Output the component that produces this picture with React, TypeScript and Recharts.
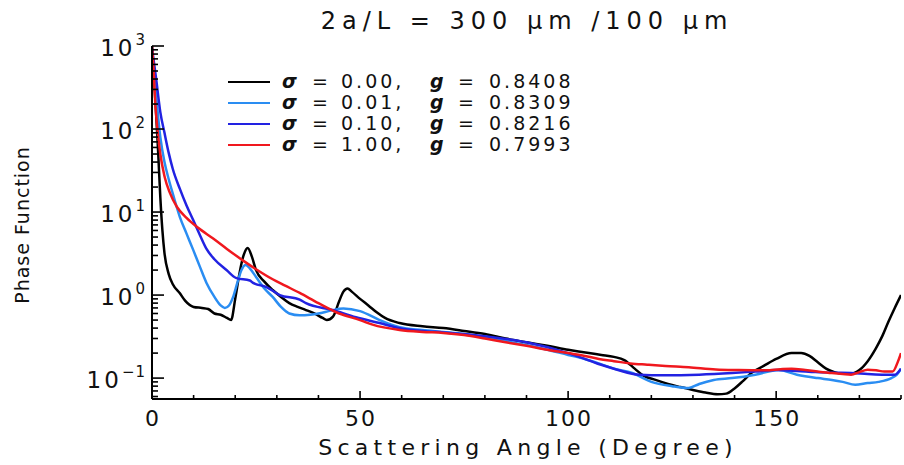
import { LineChart, Line, XAxis, YAxis } from 'recharts';

const FONT = '"DejaVu Sans", Verdana, sans-serif';

// legend text
const sigmaLabels = ['0.00', '0.01', '0.10', '1.00'];
const gLabels = ['0.8408', '0.8309', '0.8216', '0.7993'];
const seriesColors = ['#000000', '#2a8df2', '#2222e2', '#f0181e'];

// sigma = 0.00
const angleS0 = [0, 0.5, 1, 1.5, 2, 2.5, 3, 4, 5, 6.7, 8, 10, 12, 13.5, 15, 16.5, 18, 19, 20, 21, 22, 23, 24, 25, 27, 29, 31, 33, 35, 37, 39, 41, 42, 43.5, 45, 46, 47, 48, 50, 52, 54, 56, 59.5, 65, 70, 75, 80, 85, 90, 95, 100, 105, 108, 111, 113.5, 116, 118, 121, 124, 127, 130, 133, 136, 138, 140, 142, 144, 147, 150, 153.7, 156, 158, 160, 162, 164, 166, 168, 170, 172, 174, 175.5, 177, 178.5, 180];
const phaseS0 = [1000, 400, 150, 50, 15, 6, 3.2, 1.8, 1.35, 1.05, 0.85, 0.72, 0.7, 0.68, 0.6, 0.58, 0.53, 0.5, 0.9, 1.8, 3.0, 3.7, 2.9, 2.0, 1.45, 1.15, 0.95, 0.8, 0.72, 0.66, 0.6, 0.53, 0.5, 0.55, 0.85, 1.1, 1.2, 1.1, 0.9, 0.75, 0.62, 0.53, 0.46, 0.42, 0.4, 0.37, 0.34, 0.3, 0.27, 0.245, 0.22, 0.2, 0.19, 0.18, 0.165, 0.13, 0.108, 0.095, 0.085, 0.078, 0.072, 0.067, 0.064, 0.065, 0.075, 0.092, 0.115, 0.14, 0.17, 0.2, 0.2, 0.185, 0.155, 0.13, 0.118, 0.113, 0.113, 0.125, 0.16, 0.23, 0.32, 0.48, 0.7, 1.0];

// sigma = 0.01
const angleS1 = [0, 1, 2, 3, 4, 5.1, 6.7, 8.3, 9.9, 11.5, 13.1, 15, 16.5, 17.5, 18.5, 19.5, 20.5, 21.5, 22.5, 23.5, 25, 27, 29, 31, 33, 35.5, 38, 40, 43, 46, 50, 54.7, 59.5, 65, 70, 75, 80, 85, 90, 95, 100, 104, 107.4, 111, 115.4, 120, 125, 129, 131.5, 135, 139.4, 145, 150.6, 155, 160, 163.4, 166, 169, 172, 174.6, 177.7, 179, 180];
const phaseS1 = [950, 250, 80, 40, 25, 16, 8.7, 5.5, 3.5, 2.2, 1.4, 0.95, 0.75, 0.7, 0.75, 0.95, 1.4, 2.0, 2.3, 2.1, 1.65, 1.2, 0.95, 0.72, 0.6, 0.57, 0.58, 0.6, 0.65, 0.69, 0.64, 0.5, 0.41, 0.38, 0.36, 0.34, 0.31, 0.28, 0.25, 0.22, 0.19, 0.17, 0.15, 0.13, 0.115, 0.09, 0.08, 0.076, 0.085, 0.095, 0.1, 0.11, 0.125, 0.11, 0.1, 0.095, 0.09, 0.083, 0.087, 0.09, 0.1, 0.11, 0.13];

// sigma = 0.10
const angleS2 = [0, 1, 2, 3, 4, 5, 6.7, 8.3, 9.9, 11.5, 13.1, 15, 17.9, 20.3, 23.5, 24.3, 27.5, 30.7, 35.5, 37, 43.4, 49, 54.7, 59.5, 65, 70, 80, 90, 100, 107, 112, 117, 123, 131.5, 139.4, 145, 150, 155, 159.5, 164, 168, 172, 176, 178.5, 180];
const phaseS2 = [950, 400, 160, 90, 52, 33, 19, 12, 8, 5.3, 3.6, 2.7, 2.0, 1.6, 1.5, 1.4, 1.25, 1.0, 0.88, 0.8, 0.66, 0.54, 0.46, 0.4, 0.37, 0.355, 0.32, 0.27, 0.2, 0.15, 0.125, 0.11, 0.108, 0.11, 0.115, 0.12, 0.125, 0.122, 0.118, 0.116, 0.115, 0.112, 0.11, 0.11, 0.13];

// sigma = 1.00
const angleS3 = [0, 0.4, 0.8, 1.3, 2, 3, 4.3, 6, 8.3, 11, 14.7, 18, 21.9, 25, 29, 32, 35.5, 40, 45, 50, 53, 59.5, 65, 70, 75, 80, 85, 90, 95, 100, 104, 107.4, 111, 115, 119, 123.4, 129, 135.5, 141, 147.5, 151, 153.7, 157, 160, 163.4, 166, 168, 170, 172, 174, 176, 178, 179.3, 180];
const phaseS3 = [1000, 500, 200, 100, 50, 27, 17, 11.5, 8.5, 6.5, 4.8, 3.6, 2.6, 2.05, 1.55, 1.3, 1.06, 0.8, 0.6, 0.5, 0.44, 0.38, 0.36, 0.35, 0.33, 0.3, 0.27, 0.245, 0.22, 0.2, 0.185, 0.17, 0.16, 0.15, 0.145, 0.14, 0.135, 0.127, 0.125, 0.124, 0.128, 0.13, 0.125, 0.12, 0.115, 0.112, 0.11, 0.118, 0.126, 0.124, 0.12, 0.12, 0.16, 0.2];

const xTicks = [0, 10, 20, 30, 40, 50, 60, 70, 80, 90, 100, 110, 120, 130, 140, 150, 160, 170, 180];
const xLabels = [0, 50, 100, 150];
const yMajor = [0.1, 1, 10, 100, 1000];
const yMinor = [0.06, 0.07, 0.08, 0.09, 0.2, 0.3, 0.4, 0.5, 0.6, 0.7, 0.8, 0.9, 2, 3, 4, 5, 6, 7, 8, 9, 20, 30, 40, 50, 60, 70, 80, 90, 200, 300, 400, 500, 600, 700, 800, 900];
const yTicks = [...yMajor, ...yMinor].sort((a, b) => a - b);
const yDomain = [0.056, 1000];

const toRows = (a: number[], p: number[]) => a.map((v, i) => ({ a: v, p: p[i] }));
const series = [
  toRows(angleS0, phaseS0),
  toRows(angleS1, phaseS1),
  toRows(angleS2, phaseS2),
  toRows(angleS3, phaseS3),
];

const isMajorY = (v: number) => yMajor.some((m) => Math.abs(m - v) < 1e-9);

function BottomTick({ x, y, payload }: any) {
  const major = xLabels.includes(payload.value);
  return (
    <g>
      <line x1={x} x2={x} y1={y} y2={y - (major ? 8 : 4)} stroke="#000" strokeWidth={1.6} />
      {major && (
        <text x={x + 1} y={y + 27} textAnchor="middle" fontFamily={FONT} fontSize={22} letterSpacing={2} fill="#111">
          {payload.value}
        </text>
      )}
    </g>
  );
}

function TopTick({ x, y, payload }: any) {
  const major = xLabels.includes(payload.value);
  return <line x1={x} x2={x} y1={y} y2={y + (major ? 8 : 4)} stroke="#000" strokeWidth={1.6} />;
}

function LeftTick({ x, y, payload }: any) {
  const major = isMajorY(payload.value);
  const exp = Math.round(Math.log10(payload.value));
  return (
    <g>
      <line x1={x} x2={x + (major ? 12 : 6)} y1={y} y2={y} stroke="#000" strokeWidth={1.6} />
      {major && (
        <text x={x - 6} y={y + 10} textAnchor="end" fontFamily={FONT} fontSize={23} letterSpacing={3} fill="#111">
          10
          <tspan dy={-11} fontSize={15} letterSpacing={1}>
            {exp < 0 ? '\u2212' + Math.abs(exp) : exp}
          </tspan>
        </text>
      )}
    </g>
  );
}

function RightTick({ x, y, payload }: any) {
  const major = isMajorY(payload.value);
  return <line x1={x} x2={x - (major ? 12 : 6)} y1={y} y2={y} stroke="#000" strokeWidth={1.6} />;
}

function PlotLegend() {
  return (
    <div
      style={{
        position: 'absolute',
        left: 228,
        top: 71,
        fontFamily: FONT,
        fontSize: 19,
        color: '#111',
        lineHeight: '21px',
      }}
    >
      {sigmaLabels.map((s, i) => (
        <div key={s} style={{ position: 'relative', height: 21, width: 380 }}>
          <span
            style={{
              position: 'absolute',
              left: 0,
              top: 10,
              width: 42,
              height: 2,
              background: seriesColors[i],
            }}
          />
          <span style={{ position: 'absolute', left: 54, fontStyle: 'italic', fontWeight: 'bold' }}>σ</span>
          <span style={{ position: 'absolute', left: 84 }}>=</span>
          <span style={{ position: 'absolute', left: 113, letterSpacing: 3 }}>{s},</span>
          <span style={{ position: 'absolute', left: 202, fontStyle: 'italic', fontWeight: 'bold' }}>g</span>
          <span style={{ position: 'absolute', left: 230 }}>=</span>
          <span style={{ position: 'absolute', left: 261, letterSpacing: 3 }}>{gLabels[i]}</span>
        </div>
      ))}
    </div>
  );
}

export default function App() {
  return (
    <div style={{ position: 'absolute', left: 0, top: 0, width: 904, height: 465, background: '#fff' }}>
      <LineChart width={904} height={465} margin={{ top: 46, right: 3, bottom: 36, left: 92 }}>
        <XAxis
          xAxisId={0}
          dataKey="a"
          type="number"
          domain={[0, 180]}
          ticks={xTicks}
          interval={0}
          tickSize={0}
          tickMargin={0}
          tickLine={false}
          tick={BottomTick}
          height={30}
          axisLine={{ stroke: '#000', strokeWidth: 2 }}
          allowDataOverflow
          label={() => (
            <g>
              <text x={528} y={455} textAnchor="middle" fontFamily={FONT} fontSize={22} letterSpacing={5.3} fill="#111">
                Scattering Angle (Degree)
              </text>
              <text x={527} y={29} textAnchor="middle" fontFamily={FONT} fontSize={24} letterSpacing={6} fill="#111">
                2a/L = 300 μm /100 μm
              </text>
            </g>
          )}
        />
        <XAxis
          xAxisId="top"
          orientation="top"
          type="number"
          domain={[0, 180]}
          ticks={xTicks}
          interval={0}
          tickSize={0}
          tickMargin={0}
          tickLine={false}
          tick={TopTick}
          height={0}
          axisLine={{ stroke: '#000', strokeWidth: 2 }}
          allowDataOverflow
        />
        <YAxis
          yAxisId={0}
          scale="log"
          type="number"
          domain={yDomain}
          ticks={yTicks}
          interval={0}
          tickSize={0}
          tickMargin={0}
          tickLine={false}
          tick={LeftTick}
          width={60}
          axisLine={{ stroke: '#000', strokeWidth: 2 }}
          allowDataOverflow
          label={() => (
            <text
              x={29}
              y={225}
              transform="rotate(-90 29 225)"
              textAnchor="middle"
              fontFamily={FONT}
              fontSize={19}
              letterSpacing={1}
              fill="#111"
            >
              Phase Function
            </text>
          )}
        />
        <YAxis
          yAxisId="right"
          orientation="right"
          scale="log"
          type="number"
          domain={yDomain}
          ticks={yTicks}
          interval={0}
          tickSize={0}
          tickMargin={0}
          tickLine={false}
          tick={RightTick}
          width={0}
          axisLine={{ stroke: '#000', strokeWidth: 2 }}
          allowDataOverflow
        />
        {series.map((d, i) => (
          <Line
            key={sigmaLabels[i]}
            data={d}
            dataKey="p"
            xAxisId={0}
            yAxisId={0}
            type="monotone"
            stroke={seriesColors[i]}
            strokeWidth={2.5}
            dot={false}
            isAnimationActive={false}
          />
        ))}
      </LineChart>
      <PlotLegend />
    </div>
  );
}
